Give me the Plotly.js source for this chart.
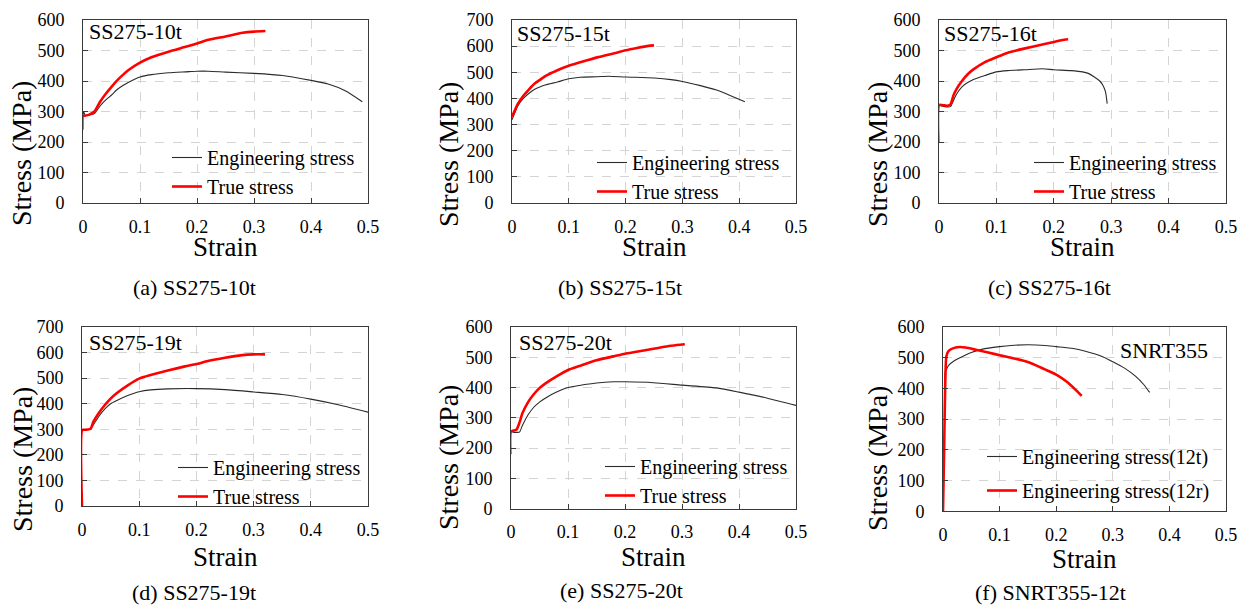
<!DOCTYPE html>
<html>
<head>
<meta charset="utf-8">
<script src="https://cdn.plot.ly/plotly-3.0.1.min.js"></script>
<style>
  html, body { margin: 0; padding: 0; background: #ffffff; }
  #chart { width: 1247px; height: 605px; }
</style>
</head>
<body>
<div id="chart"></div>
<script>
// Stress–strain curves of six steel coupons (strain, stress in MPa)

// (a) SS275-10t
const a_engStrain = [0, 0.001, 0.004, 0.01, 0.015, 0.02, 0.025, 0.03, 0.04, 0.05, 0.06, 0.07, 0.08, 0.1, 0.12, 0.15, 0.18, 0.2, 0.22, 0.25, 0.3, 0.35, 0.4, 0.43, 0.46, 0.49];
const a_engStress = [240, 300, 287, 288, 290, 293, 305, 318, 338, 354, 372, 385, 396, 413, 421, 427, 430, 432, 432, 429, 425, 418, 402, 390, 368, 332];
const a_trueStrain = [0, 0.01, 0.02, 0.03, 0.04, 0.05, 0.06, 0.07, 0.08, 0.1, 0.12, 0.15, 0.18, 0.2, 0.22, 0.25, 0.28, 0.3, 0.32];
const a_trueStress = [285, 289, 300, 332, 358, 381, 402, 420, 436, 460, 478, 496, 512, 523, 535, 546, 558, 562, 564];

// (b) SS275-15t
const b_engStrain = [0, 0.005, 0.01, 0.02, 0.03, 0.04, 0.05, 0.06, 0.08, 0.1, 0.12, 0.15, 0.17, 0.2, 0.25, 0.28, 0.3, 0.33, 0.36, 0.38, 0.41];
const b_engStress = [318, 345, 370, 400, 420, 435, 445, 452, 463, 475, 481, 483, 485, 482, 478, 472, 465, 450, 432, 415, 387];
const b_trueStrain = [0, 0.005, 0.01, 0.02, 0.03, 0.04, 0.05, 0.06, 0.08, 0.1, 0.12, 0.15, 0.18, 0.2, 0.22, 0.24, 0.25];
const b_trueStress = [330, 355, 378, 410, 435, 457, 472, 487, 508, 525, 538, 557, 573, 584, 593, 601, 603];

// (c) SS275-16t
const c_engStrain = [0, 0.001, 0.005, 0.01, 0.015, 0.02, 0.025, 0.03, 0.04, 0.05, 0.06, 0.08, 0.1, 0.12, 0.15, 0.18, 0.2, 0.23, 0.25, 0.26, 0.27, 0.28, 0.285, 0.29, 0.293];
const c_engStress = [200, 320, 318, 316, 315, 316, 335, 355, 381, 395, 405, 418, 430, 434, 437, 440, 437, 434, 430, 425, 414, 400, 388, 365, 326];
const c_trueStrain = [0, 0.005, 0.01, 0.015, 0.02, 0.025, 0.03, 0.04, 0.05, 0.06, 0.08, 0.1, 0.12, 0.15, 0.18, 0.2, 0.22, 0.225];
const c_trueStress = [322, 321, 320, 319, 323, 352, 372, 400, 422, 438, 462, 478, 493, 507, 520, 528, 536, 537];

// (d) SS275-19t
const d_engStrain = [0, 0.005, 0.01, 0.015, 0.02, 0.03, 0.04, 0.05, 0.06, 0.08, 0.1, 0.12, 0.15, 0.2, 0.25, 0.3, 0.35, 0.4, 0.45, 0.5];
const d_engStress = [297, 298, 299, 300, 318, 352, 380, 400, 412, 432, 447, 454, 458, 459, 455, 446, 436, 418, 395, 367];
const d_trueStrain = [0, 0.0005, 0.005, 0.01, 0.015, 0.02, 0.03, 0.04, 0.05, 0.06, 0.08, 0.1, 0.12, 0.15, 0.18, 0.2, 0.22, 0.25, 0.28, 0.3, 0.32];
const d_trueStress = [0, 297, 298, 299, 302, 330, 366, 395, 420, 440, 472, 498, 512, 530, 546, 555, 567, 580, 590, 593, 593];

// (e) SS275-20t
const e_engStrain = [0, 0.001, 0.005, 0.01, 0.015, 0.02, 0.03, 0.04, 0.05, 0.06, 0.08, 0.1, 0.12, 0.15, 0.18, 0.2, 0.25, 0.3, 0.36, 0.4, 0.45, 0.5];
const e_engStress = [180, 255, 252, 252, 253, 275, 310, 335, 352, 365, 385, 400, 407, 415, 419, 419, 416, 408, 399, 385, 365, 341];
const e_trueStrain = [0, 0.005, 0.01, 0.015, 0.02, 0.03, 0.04, 0.05, 0.06, 0.08, 0.1, 0.12, 0.15, 0.18, 0.2, 0.22, 0.25, 0.28, 0.3, 0.305];
const e_trueStress = [255, 258, 262, 285, 315, 352, 378, 398, 413, 437, 458, 471, 490, 503, 512, 518, 528, 538, 542, 543];

// (f) SNRT355-12t / 12r
const f_tStrain = [0.003, 0.004, 0.006, 0.01, 0.02, 0.03, 0.05, 0.07, 0.1, 0.12, 0.15, 0.18, 0.2, 0.23, 0.25, 0.28, 0.3, 0.32, 0.34, 0.355, 0.365];
const f_tStress = [430, 455, 462, 475, 490, 500, 517, 528, 536, 540, 542, 540, 536, 530, 522, 505, 487, 467, 440, 412, 387];
const f_rStrain = [0, 0.002, 0.004, 0.006, 0.01, 0.02, 0.03, 0.04, 0.06, 0.08, 0.1, 0.12, 0.15, 0.18, 0.2, 0.22, 0.245];
const f_rStress = [0, 200, 420, 505, 522, 532, 535, 533, 525, 517, 508, 500, 486, 462, 445, 420, 376];

const panelNames = ['SS275-10t', 'SS275-15t', 'SS275-16t', 'SS275-19t', 'SS275-20t', 'SNRT355'];
const captions = ['(a) SS275-10t', '(b) SS275-15t', '(c) SS275-16t', '(d) SS275-19t', '(e) SS275-20t', '(f) SNRT355-12t'];
const blackNames = ['Engineering stress', 'Engineering stress', 'Engineering stress', 'Engineering stress', 'Engineering stress', 'Engineering stress(12t)'];
const redNames = ['True stress', 'True stress', 'True stress', 'True stress', 'True stress', 'Engineering stress(12r)'];
const yMax = [600, 700, 600, 700, 600, 600];
const xMax = 0.5;

const series = [
  [a_engStrain, a_engStress, a_trueStrain, a_trueStress],
  [b_engStrain, b_engStress, b_trueStrain, b_trueStress],
  [c_engStrain, c_engStress, c_trueStrain, c_trueStress],
  [d_engStrain, d_engStress, d_trueStrain, d_trueStress],
  [e_engStrain, e_engStress, e_trueStrain, e_trueStress],
  [f_tStrain, f_tStress, f_rStrain, f_rStress]
];

// ---- page geometry (pixels in a 1247 x 605 page) ----
const W = 1247, H = 605;
const px = v => v / W;
const py = v => 1 - v / H;

// plot boxes: [left, right, top, bottom]
const boxes = [
  [83, 368, 20, 203], [512, 796, 20, 203], [939, 1226, 20, 203],
  [82, 368, 327, 506], [511, 796, 327, 508.7], [943, 1226, 327, 511.3]
];
// legend line start x, first row centre y
const legendPos = [[174, 158], [599, 163], [1036, 163], [180, 468], [607, 467], [989, 457]];
const captionPos = [[194, 287], [620, 287], [1049, 287], [194, 592], [621, 590], [1050, 592]];
const yTitlePos = [[22, 154], [448, 155], [877, 155], [22, 460], [448, 458], [877, 459]];
const strainTitleY = [247, 247, 247, 557, 557, 559];
const labelPos = [[87, 32], [515, 33], [942, 33], [87, 342], [517, 342], [1210, 350]];

const serif = 'Liberation Serif';
const frame = '#3a3a3a';

const traces = [];
const layout = {
  width: W, height: H,
  margin: {l: 0, r: 0, t: 0, b: 0},
  paper_bgcolor: '#ffffff', plot_bgcolor: '#ffffff',
  font: {family: serif, color: '#000000', size: 18},
  showlegend: true,
  annotations: []
};

series.forEach((s, i) => {
  const n = i + 1;
  const xa = 'x' + (n === 1 ? '' : n), ya = 'y' + (n === 1 ? '' : n);
  const lg = 'legend' + (n === 1 ? '' : n);
  const [L, R, T, B] = boxes[i];

  traces.push({
    x: s[0], y: s[1], xaxis: xa, yaxis: ya, legend: lg,
    type: 'scatter', mode: 'lines', name: blackNames[i],
    legendgroup: 'k' + n,
    line: {color: '#2b2b2b', width: 1.1, shape: 'spline', smoothing: 0.6}
  });
  traces.push({
    x: s[2], y: s[3], xaxis: xa, yaxis: ya, legend: lg,
    type: 'scatter', mode: 'lines', name: redNames[i],
    legendgroup: 'r' + n,
    line: {color: '#ff0000', width: 2.6, shape: 'spline', smoothing: 0.6}
  });

  const axCommon = {
    showline: true, mirror: true, linecolor: frame, linewidth: 1,
    ticks: 'inside', ticklen: 5, tickcolor: frame, tickwidth: 1,
    showgrid: true, gridcolor: '#d4d4d4', griddash: 'dash', gridwidth: 1,
    zeroline: false, fixedrange: true,
    tickfont: {family: serif, size: 18, color: '#000000'}
  };
  layout['xaxis' + (n === 1 ? '' : n)] = Object.assign({}, axCommon, {
    domain: [px(L), px(R)], anchor: ya,
    range: [0, xMax], dtick: 0.1, tick0: 0,
    ticklabelstandoff: 7
  });
  layout['yaxis' + (n === 1 ? '' : n)] = Object.assign({}, axCommon, {
    domain: [py(B), py(T)], anchor: xa,
    range: [0, yMax[i]], dtick: 100, tick0: 0,
    ticklabelstandoff: 14
  });

  // legend box sits so its first row is centred on legendPos
  const [lx, ly] = legendPos[i];
  layout[lg] = {
    x: px(lx - 7), y: py(ly - 20), xanchor: 'left', yanchor: 'top',
    bgcolor: 'rgba(0,0,0,0)', borderwidth: 0,
    font: {family: serif, size: 20, color: '#000000'},
    tracegroupgap: n === 6 ? 5 : 0,
    itemclick: false, itemdoubleclick: false
  };

  // panel label inside the frame
  const [tx, ty] = labelPos[i];
  layout.annotations.push({
    xref: 'paper', yref: 'paper', x: px(tx), y: py(ty),
    xanchor: n === 6 ? 'right' : 'left', yanchor: 'middle', showarrow: false,
    text: panelNames[i], font: {family: serif, size: 22, color: '#000000'}
  });
  // axis titles
  layout.annotations.push({
    xref: 'paper', yref: 'paper', x: px((L + R) / 2), y: py(strainTitleY[i]),
    xanchor: 'center', yanchor: 'middle', showarrow: false,
    text: 'Strain', font: {family: serif, size: 27, color: '#000000'}
  });
  layout.annotations.push({
    xref: 'paper', yref: 'paper', x: px(yTitlePos[i][0]), y: py(yTitlePos[i][1]),
    xanchor: 'center', yanchor: 'middle', showarrow: false, textangle: -90,
    text: 'Stress (MPa)', font: {family: serif, size: 28, color: '#000000'}
  });
  // caption under the panel
  layout.annotations.push({
    xref: 'paper', yref: 'paper', x: px(captionPos[i][0]), y: py(captionPos[i][1]),
    xanchor: 'center', yanchor: 'middle', showarrow: false,
    text: captions[i], font: {family: serif, size: 22, color: '#000000'}
  });
});

Plotly.newPlot('chart', traces, layout, {displayModeBar: false, staticPlot: true});
</script>
</body>
</html>
